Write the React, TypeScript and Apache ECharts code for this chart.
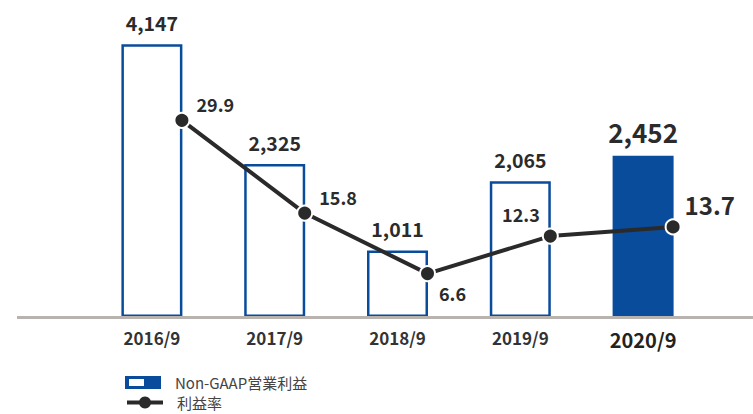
import React, { useEffect, useRef } from "react";
import * as echarts from "echarts";

const categories = ["2016/9", "2017/9", "2018/9", "2019/9", "2020/9"];
const profitValues = [4147, 2325, 1011, 2065, 2452];
const marginValues = [29.9, 15.8, 6.6, 12.3, 13.7];
const barLabels = ["4,147", "2,325", "1,011", "2,065", "2,452"];
const marginLabels = ["29.9", "15.8", "6.6", "12.3", "13.7"];
const barSeriesName = "Non-GAAP営業利益";
const lineSeriesName = "利益率";

const BLUE = "#0a4c9c";
const DARK = "#2a2a2a";
const FONT = "'Noto Sans CJK JP', 'Noto Sans', sans-serif";

export default function App() {
  const ref = useRef<HTMLDivElement>(null);
  useEffect(() => {
    if (!ref.current) return;
    const chart = echarts.init(ref.current, null, { renderer: "svg" });
    const last = categories.length - 1;

    const linePos: any[] = [
      { position: "right", distance: 6, offset: [0, -16] },
      { position: "right", distance: 6, offset: [0, -16] },
      { position: "right", distance: 3, offset: [0, 19] },
      { position: "left", distance: 2, offset: [0, -22] },
      { position: "right", distance: 3, offset: [0, -22] },
    ];

    const legendText = {
      fontSize: 15,
      lineHeight: 15,
      color: "#444",
      fontFamily: FONT,
      padding: [0, 0, 0, 9],
    };

    chart.setOption({
      animation: false,
      textStyle: { fontFamily: FONT },
      grid: [
        { left: 90.5, right: 48.5, top: 21, bottom: 97 },
        { left: 120.5, right: 18.5, top: 21, bottom: 97 },
      ],
      xAxis: [
        {
          type: "category",
          gridIndex: 0,
          data: categories,
          axisLine: { show: false },
          axisTick: { show: false },
          axisLabel: {
            margin: 12,
            fontFamily: FONT,
            formatter: (v: string) =>
              v === categories[last] ? `{b|${v}}` : `{a|${v}}`,
            rich: {
              a: { fontSize: 17, fontWeight: "bold", color: "#333", fontFamily: FONT },
              b: { fontSize: 20, fontWeight: "bold", color: "#222", fontFamily: FONT },
            },
          },
        },
        {
          type: "category",
          gridIndex: 1,
          data: categories,
          show: false,
        },
      ],
      yAxis: [
        { type: "value", gridIndex: 0, min: 0, max: 4500, show: false },
        { type: "value", gridIndex: 1, min: 0, max: 45, show: false },
      ],
      legend: [
        {
          left: 125,
          top: 375,
          padding: 0,
          itemWidth: 36,
          itemHeight: 13,
          textStyle: legendText,
          data: [
            {
              name: barSeriesName,
              icon: "path://M0,0H36V13H0Z M4,3V10H19V3Z",
              itemStyle: { color: BLUE, borderWidth: 0 },
            },
          ],
        },
        {
          left: 125,
          top: 395,
          padding: 0,
          itemWidth: 36,
          itemHeight: 15,
          textStyle: legendText,
          data: [
            {
              name: lineSeriesName,
              lineStyle: { width: 4, color: DARK },
              itemStyle: { color: DARK, borderColor: "#ffffff", borderWidth: 0 },
            },
          ],
        },
      ],
      graphic: [
        {
          type: "line",
          z: 100,
          shape: { x1: 17, y1: 317.5, x2: 753, y2: 317.5 },
          style: { stroke: "#b8b3ae", lineWidth: 3 },
        },
      ],
      series: [
        {
          name: barSeriesName,
          type: "bar",
          xAxisIndex: 0,
          yAxisIndex: 0,
          barWidth: 61,
          data: profitValues.map((v, i) => ({
            value: v,
            itemStyle:
              i === last
                ? { color: BLUE, borderColor: BLUE, borderWidth: 0 }
                : { color: "#ffffff", borderColor: BLUE, borderWidth: 2.5 },
            label: {
              show: true,
              position: "top",
              distance: i === last ? 11 : 12,
              formatter: barLabels[i],
              fontSize: i === last ? 26 : 19.5,
              fontWeight: "bold",
              color: "#2b2b2b",
              fontFamily: FONT,
            },
          })),
        },
        {
          name: lineSeriesName,
          type: "line",
          xAxisIndex: 1,
          yAxisIndex: 1,
          z: 5,
          symbol: "circle",
          symbolSize: 15,
          lineStyle: { color: DARK, width: 4 },
          itemStyle: { color: DARK, borderColor: "#ffffff", borderWidth: 2 },
          data: marginValues.map((v, i) => ({
            value: v,
            label: {
              show: true,
              ...linePos[i],
              formatter: marginLabels[i],
              fontSize: i === last ? 24 : 18,
              fontWeight: "bold",
              color: "#2b2b2b",
              fontFamily: FONT,
            },
          })),
        },
      ],
    });
    return () => chart.dispose();
  }, []);

  return (
    <div
      ref={ref}
      style={{ position: "fixed", left: 0, top: 0, width: 753, height: 414, background: "#fff" }}
    />
  );
}
